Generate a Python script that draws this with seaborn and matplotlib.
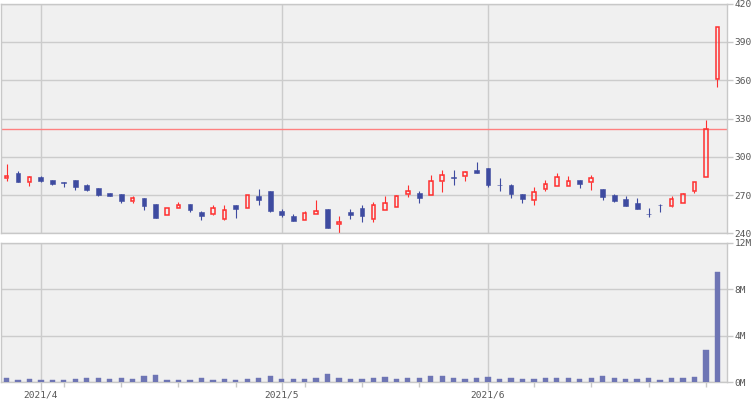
import numpy as np
import pandas as pd
import matplotlib
matplotlib.use("Agg")
import matplotlib.pyplot as plt
import seaborn as sns

# ---------------- data ----------------
dates = pd.to_datetime([
    "2021-03-29", "2021-03-30", "2021-03-31",
    "2021-04-01", "2021-04-02", "2021-04-05", "2021-04-06", "2021-04-07", "2021-04-08", "2021-04-09",
    "2021-04-12", "2021-04-13", "2021-04-14", "2021-04-15", "2021-04-16",
    "2021-04-19", "2021-04-20", "2021-04-21", "2021-04-22", "2021-04-23",
    "2021-04-26", "2021-04-27", "2021-04-28", "2021-04-30",
    "2021-05-06", "2021-05-07", "2021-05-10", "2021-05-11", "2021-05-12", "2021-05-13", "2021-05-14",
    "2021-05-17", "2021-05-18", "2021-05-19", "2021-05-20", "2021-05-21",
    "2021-05-24", "2021-05-25", "2021-05-26", "2021-05-27", "2021-05-28", "2021-05-31",
    "2021-06-01", "2021-06-02", "2021-06-03", "2021-06-04",
    "2021-06-07", "2021-06-08", "2021-06-09", "2021-06-10", "2021-06-11",
    "2021-06-14", "2021-06-15", "2021-06-16", "2021-06-17", "2021-06-18",
    "2021-06-21", "2021-06-22", "2021-06-23", "2021-06-24", "2021-06-25",
    "2021-06-28", "2021-06-29",
])

opens = [283, 287, 280, 284, 282, 280, 282, 278, 275.5, 271.5,
         271, 265, 267.5, 263, 254.5, 259.5, 263, 256.5, 255.5, 251.5,
         262, 259.5, 269, 273, 257.5, 253.5, 250.5, 255.5, 259, 247,
         256.5, 259.5, 251.5, 258, 261, 270.5, 271.5, 270, 281, 284,
         285, 290, 291.5, 278, 277.5, 270.5, 266, 274.5, 277, 277,
         282, 280, 274.5, 270, 267, 264, 255.5, 262.5, 261.5, 264,
         273.5, 284.5, 361]
highs = [294, 289, 285, 285, 282, 280, 282, 279, 275.5, 271.5,
         271, 269, 267.5, 263, 259.5, 264.5, 263, 257.5, 262, 262,
         262, 270, 275, 273, 259, 255, 257.5, 266, 259, 253.5,
         259, 262, 264.5, 269, 270, 278, 273, 286, 289.5, 289.5,
         289, 296, 291.5, 283, 278.5, 270.5, 276, 281.5, 287.5, 285,
         282, 285.5, 274.5, 271, 269.5, 267.5, 260, 263, 269.5, 271.5,
         280.5, 329, 402]
lows = [281, 280, 277, 280, 278, 276.5, 274, 273.5, 269.5, 269,
        264, 264, 258, 252, 254.5, 259.5, 257, 250.5, 254.5, 250.5,
        252, 259.5, 262, 256.5, 253, 249.5, 250.5, 255.5, 244, 240.5,
        251, 249, 249, 258, 261, 268.5, 264, 270, 272.5, 278,
        281, 287, 276.5, 273, 267.5, 263.5, 262, 273.5, 277, 277,
        275.5, 274, 266, 264.5, 261.5, 259, 252.5, 256.5, 260.5, 264,
        271.5, 284.5, 354.5]
closes = [285, 280, 284, 281, 279, 279.5, 276.5, 274, 270, 269.5,
          265, 267.5, 261.5, 252, 259.5, 262.5, 258, 253.5, 259.5, 258.5,
          259, 270, 266, 257.5, 254, 249.5, 256, 257.5, 244.5, 249,
          254, 253.5, 262.5, 264, 269, 273.5, 268, 281, 285.5, 283.5,
          288, 287, 277.5, 277.5, 270.5, 267, 272, 279, 284, 281,
          279, 283, 268.5, 265, 261.5, 259, 255, 262, 267, 271,
          280.5, 322, 402]
volumes_m = [0.34, 0.17, 0.26, 0.17, 0.17, 0.17, 0.26, 0.34, 0.34, 0.26,
             0.34, 0.26, 0.52, 0.60, 0.17, 0.17, 0.17, 0.34, 0.17, 0.26,
             0.17, 0.26, 0.34, 0.52, 0.26, 0.26, 0.26, 0.34, 0.69, 0.34,
             0.26, 0.26, 0.34, 0.43, 0.26, 0.34, 0.34, 0.52, 0.52, 0.34,
             0.26, 0.34, 0.43, 0.26, 0.34, 0.26, 0.26, 0.34, 0.34, 0.34,
             0.26, 0.34, 0.52, 0.34, 0.26, 0.26, 0.34, 0.17, 0.34, 0.34,
             0.43, 2.77, 9.48]
ref_line = 322
price_ticks = [240, 270, 300, 330, 360, 390, 420]
vol_ticks_m = [0, 4, 8, 12]

# ---------------- style ----------------
sns.set_theme(style="white")
plt.rcParams["font.family"] = ["DejaVu Sans Mono"]

BG = "#f0f0f0"
GRID = "#cccccc"
SPINE = "#c8c8c8"
RED = "#ff2f2f"
BLUE = "#3e4ba0"
VOLC = "#6e75b4"
TXT = "#555555"
FS = 6.8
PX = 0.72  # points per pixel at 100 dpi

n = len(dates)
xs = np.arange(n)
df = pd.DataFrame({"x": xs, "vol": np.array(volumes_m) * 1e6})

# month starts and weekly minor ticks
month_start = [i for i in range(1, n) if dates[i].month != dates[i - 1].month]
ms_weeks = {dates[i].to_period("W") for i in month_start}
minor = [i for i in range(n) if dates[i].weekday() == 0 and dates[i].to_period("W") not in ms_weeks]
month_labels = [f"{dates[i].year}/{dates[i].month}" for i in month_start]

fig = plt.figure(figsize=(7.55, 4.0), dpi=100)
L, W = 1 / 755, 726 / 755
ax1 = fig.add_axes([L, 1 - 233.3 / 400, W, (233.3 - 3.7) / 400])
ax2 = fig.add_axes([L, 1 - 382.3 / 400, W, (382.3 - 242.7) / 400])

XL = (-0.48, 62.84)

for ax in (ax1, ax2):
    ax.set_facecolor(BG)
    for s in ax.spines.values():
        s.set_color(SPINE)
        s.set_linewidth(1.0)
    ax.set_axisbelow(True)

# ---------------- candles ----------------
wick_lw = 0.8
for i in range(n):
    o, h, l, c = opens[i], highs[i], lows[i], closes[i]
    if c >= o:
        ax1.vlines(i, l, o, color=RED, lw=wick_lw, zorder=2)
        ax1.vlines(i, c, h, color=RED, lw=wick_lw, zorder=2)
        ax1.bar(i, max(c - o, 0.3), bottom=o, width=0.31, fill=False,
                edgecolor=RED, linewidth=1.1, zorder=3)
    else:
        ax1.vlines(i, l, h, color=BLUE, lw=wick_lw, zorder=2)
        ax1.bar(i, max(o - c, 0.4), bottom=c, width=0.42, color=BLUE,
                edgecolor=BLUE, linewidth=0.4, zorder=3)

ax1.axhline(ref_line, color="#ff8080", lw=1.0, zorder=2.5)

ax1.set_xlim(*XL)
ax1.set_ylim(price_ticks[0], price_ticks[-1])
ax1.yaxis.tick_right()
ax1.set_yticks(price_ticks)
ax1.set_yticklabels([str(t) for t in price_ticks])
ax1.set_xticks(month_start)
ax1.tick_params(axis="x", length=0, labelbottom=False)
ax1.tick_params(axis="y", right=True, left=False, length=6 * PX, width=1, color=SPINE,
                labelsize=FS, labelcolor=TXT, pad=1)
ax1.grid(True, which="major", color=GRID, lw=1.0)

# ---------------- volume ----------------
sns.barplot(data=df, x="x", y="vol", native_scale=True, width=0.46,
            color=VOLC, saturation=1, errorbar=None, ax=ax2, zorder=3,
            edgecolor=VOLC, linewidth=0.3)
ax2.set_xlim(*XL)
ax2.set_ylim(0, 12e6)
ax2.yaxis.tick_right()
ax2.set_yticks([v * 1e6 for v in vol_ticks_m])
ax2.set_yticklabels([f"{v}M" for v in vol_ticks_m])
ax2.set_xticks(month_start)
ax2.set_xticklabels(month_labels)
ax2.set_xticks(minor, minor=True)
ax2.set_xlabel("")
ax2.set_ylabel("")
ax2.tick_params(axis="x", which="major", bottom=True, length=8 * PX, width=1, color=SPINE,
                labelsize=FS, labelcolor=TXT, pad=0)
ax2.tick_params(axis="x", which="minor", bottom=True, length=4.7 * PX, width=1, color=SPINE)
ax2.tick_params(axis="y", right=True, left=False, length=6 * PX, width=1, color=SPINE,
                labelsize=FS, labelcolor=TXT, pad=1)
ax2.grid(True, which="major", color=GRID, lw=1.0)
ax2.grid(False, which="minor")

fig.savefig("out.png", dpi=100, facecolor="white")
